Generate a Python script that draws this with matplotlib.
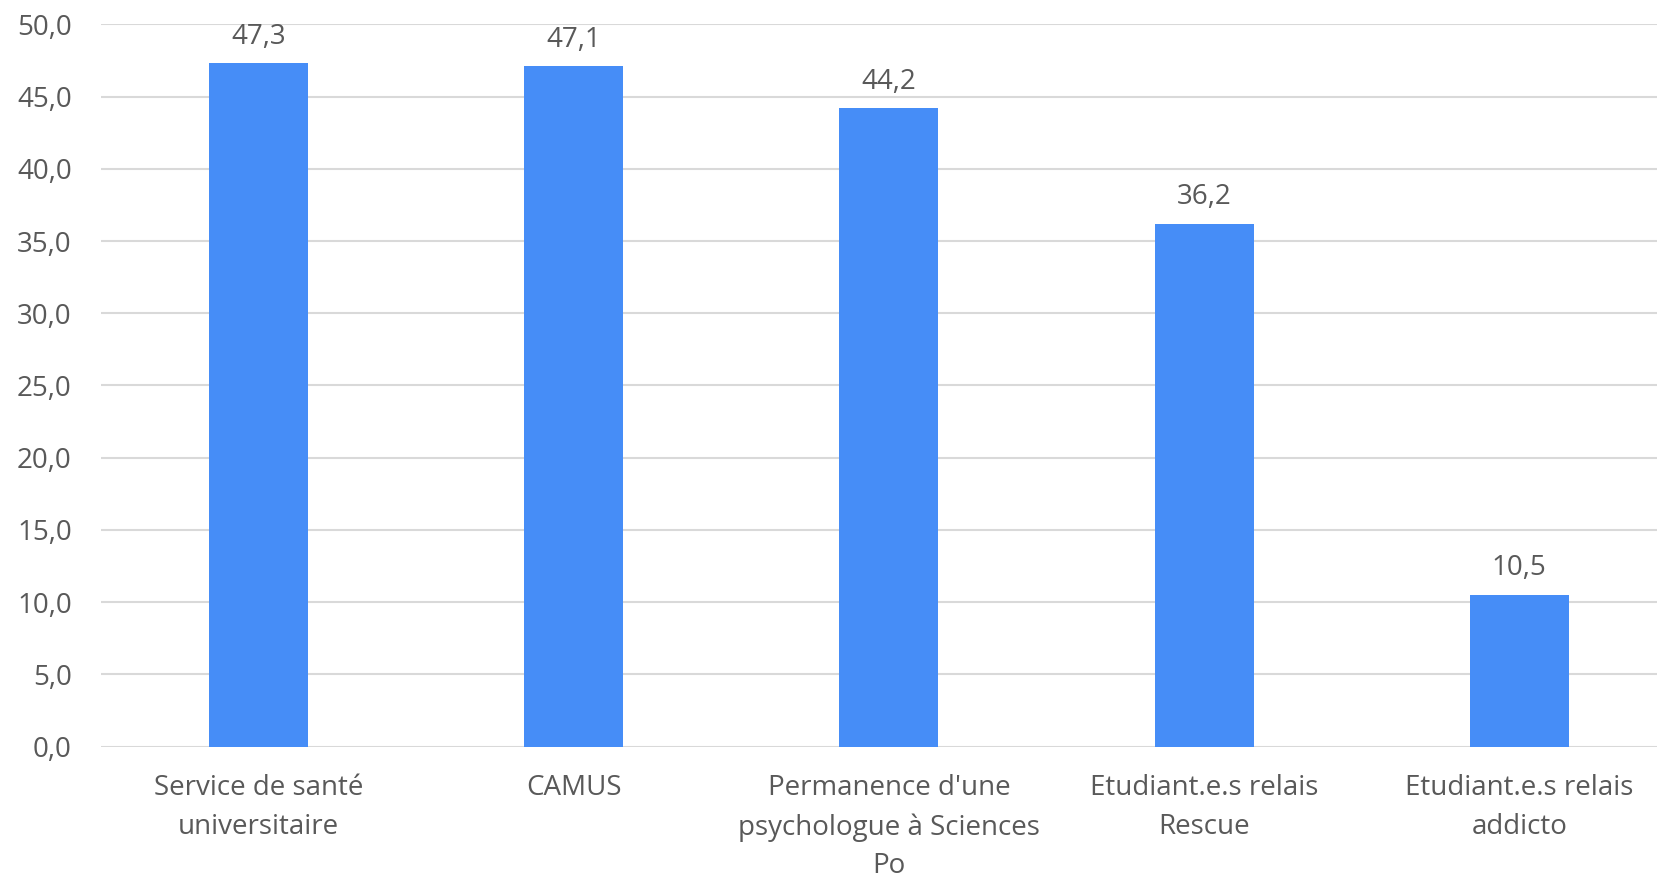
import matplotlib
matplotlib.use("Agg")
import matplotlib.pyplot as plt
from matplotlib.ticker import FuncFormatter, MultipleLocator

categories = [
    "Service de santé\nuniversitaire",
    "CAMUS",
    "Permanence d'une\npsychologue à Sciences\nPo",
    "Etudiant.e.s relais\nRescue",
    "Etudiant.e.s relais\naddicto",
]
values = [47.3, 47.1, 44.2, 36.2, 10.5]

plt.rcParams["font.family"] = ["Open Sans", "DejaVu Sans"]
text_color = "#595959"
bar_color = "#468DF7"
grid_color = "#D9D9D9"
fs = 20

fig = plt.figure(figsize=(16.58, 8.8), dpi=100)
ax = fig.add_axes([0.0609, 0.1515, 0.9505, 0.8209])

x = list(range(len(categories)))
bars = ax.bar(x, values, width=0.314, color=bar_color, zorder=3)

ax.set_xlim(-0.5, len(categories) - 0.5)
ax.set_ylim(0, 50)
ax.yaxis.set_major_locator(MultipleLocator(5))
ax.yaxis.set_major_formatter(FuncFormatter(lambda v, p: f"{v:.1f}".replace(".", ",")))
ax.grid(axis="y", color=grid_color, linewidth=1.5, zorder=0)
ax.set_axisbelow(True)

for s in ax.spines.values():
    s.set_visible(False)

ax.tick_params(axis="both", length=0, labelsize=fs, labelcolor=text_color)
ax.tick_params(axis="y", pad=21)
ax.tick_params(axis="x", pad=20)
ax.set_xticks(x)
ax.set_xticklabels(categories, linespacing=1.5)

for rect, v in zip(bars, values):
    ax.annotate(f"{v:.1f}".replace(".", ","),
                xy=(rect.get_x() + rect.get_width() / 2, v),
                xytext=(0, 9), textcoords="offset points",
                ha="center", va="bottom", fontsize=fs, color=text_color)

fig.savefig("out.png", dpi=100)
